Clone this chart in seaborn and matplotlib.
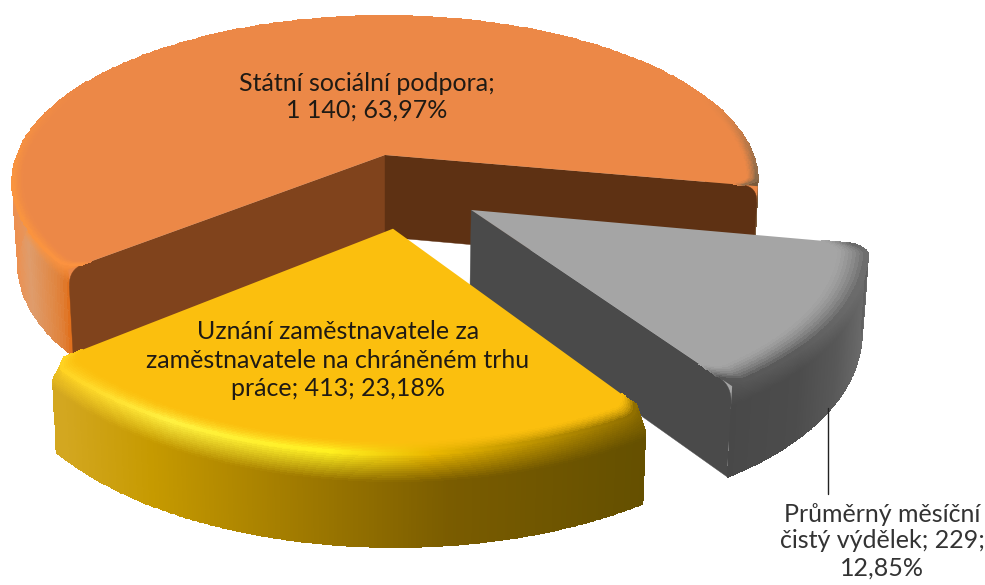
import numpy as np
import seaborn as sns
import matplotlib.pyplot as plt
from matplotlib.colors import to_rgb

# --- Data ---
categories = ["Státní sociální podpora", "Uznání zaměstnavatele za\nzaměstnavatele na chráněném trhu\npráce",
              "Průměrný měsíční\nčistý výdělek"]
values = [1140, 413, 229]
shown_values = ["1 140", "413", "229"]
percents = ["63,97%", "23,18%", "12,85%"]

# --- Look of the 3D pie (pixel space of the picture) ---
CX, CY, RX, RY, K, DEPTH = 385, 155, 368, 161.5, 0.162, 82
START = -10.8  # where the first slice starts, degrees

explode = [(0.0, 0.0), (0.0202, -0.425), (0.222, -0.3228)]
face_colors = ["#EC8847", "#FBBF0E", "#A5A5A5"]
cut_colors = [("#80431C", "#5E3113"), (None, None), ("#4A4A4A", None)]
wall_stops = [
    ([12, 28, 50, 75, 757], ["#EC9050", "#DF9C6C", "#E08A48", "#E0701E", "#7A5A3A"]),
    ([55, 150, 300, 450, 640], ["#D4A822", "#C69A00", "#A07A00", "#7A5C00", "#655000"]),
    ([725, 800, 840, 868], ["#484848", "#4C4C4C", "#585858", "#6A6A6A"]),
]
rim_stops = [
    ([12, 75, 700, 757], ["#F9943F", "#FB9240", "#EC8847", "#8A6A4A"]),
    ([55, 170, 330, 430, 640], ["#FFD020", "#FFF040", "#FFF020", "#EBB800", "#8F6E00"]),
    ([725, 800, 868], ["#565656", "#5C5C5C", "#6E6E6E"]),
]
rim_width = [0.03, 0.05, 0.08]
bevel_z = [0.18, 0.3, 0.22]
corner_span = 3.0  # degrees over which a slice corner is rounded
corner_cut = 0.035


def project(u, v, z=0.0):
    den = 1 + K * v
    x = CX + RX * u / den * (1 - 0.015 * z)
    y = CY - RY * v / den + DEPTH * z / (1 + 0.5 * K * v)
    return x, y


def lookup(stops, x):
    xp, colors = stops
    rgb = np.array([to_rgb(c) for c in colors])
    return np.stack([np.interp(x, xp, rgb[:, i]) for i in range(3)], axis=-1)


def rounded_cut(ax, a, b, angle, color, under, round_end=16):
    # flat cut face from the apex to the outer edge, top outer corner rounded
    ca, sa = np.cos(angle), np.sin(angle)
    top = [project(a + ca * s, b + sa * s) for s in np.linspace(0, 1 - round_end / 368, 10)]
    corner_start = np.array(top[-1])
    corner = np.array(project(a + ca, b + sa))
    corner_end = np.array(project(a + ca, b + sa, 0.2))
    arc = [(1 - t) ** 2 * corner_start + 2 * t * (1 - t) * corner + t ** 2 * corner_end
           for t in np.linspace(0, 1, 10)]
    notch = np.array([corner_start, project(a + ca * 0.95, b + sa * 0.95), corner, corner_end])
    ax.fill(notch[:, 0], notch[:, 1], color=under, lw=0, zorder=ax.next_z)
    pts = np.vstack([np.array(top), np.array(arc),
                     [project(a + ca, b + sa, 1)], [project(a, b, 1)]])
    ax.fill(pts[:, 0], pts[:, 1], color=color, lw=0.3, zorder=ax.next_z)
    ax.next_z += 1


sns.set_theme(style="white")
plt.rcParams["font.family"] = ["Lato", "DejaVu Sans"]

fig = plt.figure(figsize=(9.85, 5.85), dpi=100)
ax = fig.add_axes([0, 0, 1, 1])
ax.set_xlim(0, 985)
ax.set_ylim(585, 0)
ax.axis("off")
ax.next_z = 1

# angles of the slices come from the values, clockwise order is orange, grey, yellow
shares = np.array(values) / sum(values) * 360
t_orange = (START, START + shares[0])
t_yellow = (t_orange[1], t_orange[1] + shares[1])
t_grey = (t_yellow[1], t_yellow[1] + shares[2])
spans = [t_orange, t_yellow, t_grey]

# back to front
for i in [0, 2, 1]:
    a, b = explode[i]
    deg = np.linspace(spans[i][0], spans[i][1], 260)
    t = np.radians(deg)
    u, v = np.cos(t), np.sin(t)
    # pull the edge in near both ends, that rounds the corners of the slice
    d = np.minimum(deg - spans[i][0], spans[i][1] - deg)
    shrink = corner_cut * np.clip(1 - d / corner_span, 0, 1) ** 2

    # outer wall with a colour running along x
    zs = np.concatenate([np.linspace(0, bevel_z[i], 14), np.linspace(bevel_z[i], 1, 6)[1:]])
    X, Y = [], []
    for z in zs:
        r = 1 - shrink * (1 - min(z / 0.2, 1))
        px, py = project(a + r * u, b + r * v, z)
        X.append(px)
        Y.append(py)
    X, Y = np.array(X), np.array(Y)
    xm = 0.5 * (X[0, :-1] + X[0, 1:])
    wall = lookup(wall_stops[i], xm)
    rim = lookup(rim_stops[i], xm)
    frac = np.clip((0.5 * (zs[:-1] + zs[1:])) / bevel_z[i], 0, 1)[:, None, None]
    C = rim[None, :, :] * (1 - frac) + wall[None, :, :] * frac
    ax.pcolormesh(X, Y, C, shading="flat", edgecolors="face", linewidth=0.4, zorder=ax.next_z)
    ax.next_z += 1

    # flat cut faces
    if cut_colors[i][0]:
        rounded_cut(ax, a, b, np.radians(spans[i][1] if i == 0 else spans[i][0]),
                    cut_colors[i][0], face_colors[i])
    if cut_colors[i][1]:
        rounded_cut(ax, a, b, np.radians(spans[i][0]), cut_colors[i][1], face_colors[i])

    # top face
    fx, fy = project(np.r_[a, a + (1 - shrink) * u], np.r_[b, b + (1 - shrink) * v])
    ax.fill(fx, fy, color=face_colors[i], lw=0, zorder=ax.next_z)
    ax.next_z += 1

    # bevel ring on the top face, only where the edge looks towards the viewer
    rs = np.linspace(1 - rim_width[i], 1, 10)
    RXm = np.array([project(a + r * (1 - shrink) * u, b + r * (1 - shrink) * v)[0] for r in rs])
    RYm = np.array([project(a + r * (1 - shrink) * u, b + r * (1 - shrink) * v)[1] for r in rs])
    fade = np.clip((0.45 - 0.5 * (v[:-1] + v[1:])) / 0.6, 0, 1)
    s = np.linspace(0, 1, 9)[:, None]
    mix = (s ** 1.5) * fade[None, :]
    face = np.array(to_rgb(face_colors[i]))
    Cr = face[None, None, :] * (1 - mix[:, :, None]) + rim[None, :, :] * mix[:, :, None]
    ax.pcolormesh(RXm, RYm, Cr, shading="flat", edgecolors="face", linewidth=0.3, zorder=ax.next_z)
    ax.next_z += 1

# --- Labels ---
label_font = dict(fontsize=18, ha="center", va="center", zorder=ax.next_z + 5)
ax.text(367, 97, f"{categories[0]};\n{shown_values[0]}; {percents[0]}", color="#1F1A14",
        linespacing=1.2, **label_font)
ax.text(338, 360, f"{categories[1]}; {shown_values[1]}; {percents[1]}", color="#1F1A14",
        linespacing=1.3, **label_font)
ax.text(882, 541, f"{categories[2]}; {shown_values[2]};\n{percents[2]}", color="#333333",
        linespacing=1.2, **label_font)
ax.plot([828, 828], [408, 494], color="#222222", lw=1.0, zorder=ax.next_z + 1)

fig.savefig("out.png", dpi=100)
